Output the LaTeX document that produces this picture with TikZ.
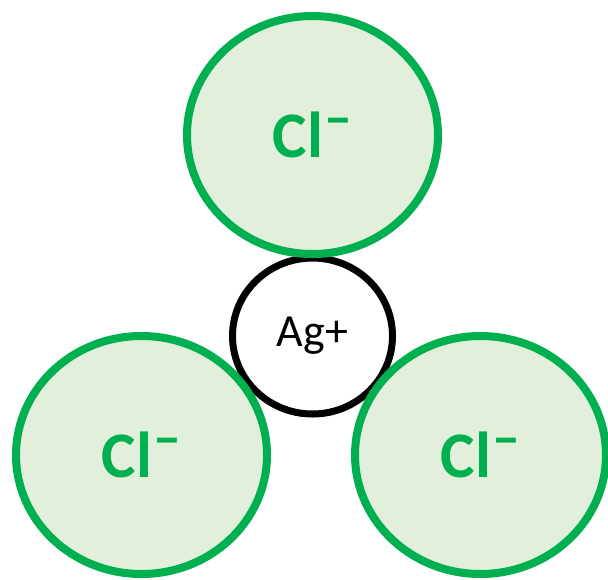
\documentclass[tikz,border=0pt]{standalone}
\usepackage{fontspec}
\setmainfont{Carlito}
\usetikzlibrary{shapes.geometric}
\definecolor{clgreen}{HTML}{00B050}
\definecolor{clfill}{HTML}{E2EFDA}
\tikzset{
  clion/.style={ellipse, draw=clgreen, fill=clfill, line width=8pt,
    minimum width=251pt, minimum height=238pt, inner sep=0pt,
    text=clgreen, font=\fontsize{65}{65}\selectfont\bfseries},
  agion/.style={ellipse, draw=black, fill=white, line width=7pt,
    minimum width=160pt, minimum height=156pt, inner sep=0pt,
    font=\fontsize{46}{46}\selectfont}
}
\newcommand{\clminus}{Cl\kern1pt\raisebox{21pt}{\fontsize{56}{56}\selectfont –}}
\begin{document}
\begin{tikzpicture}[x=1pt,y=-1pt]
\useasboundingbox (0,0) rectangle (608,579);
\node[agion] (ag) at (312.5,336) {Ag+};
\node[clion] (cltop) at (312.5,135) {\clminus};
\node[clion] (clleft) at (141.5,455) {\clminus};
\node[clion] (clright) at (480.5,455) {\clminus};
\end{tikzpicture}
\end{document}
